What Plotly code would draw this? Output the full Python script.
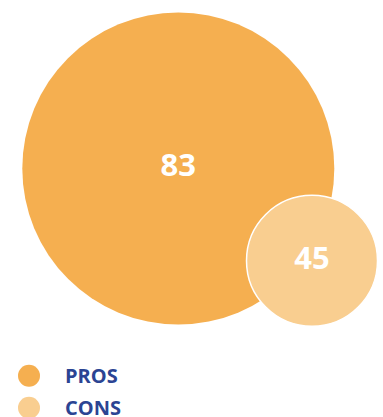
import plotly.graph_objects as go

# Survey tally: how many responses fell on each side
categories = ["PROS", "CONS"]
counts = [83, 45]

# Styling for each bubble
colors = ["#F5AF50", "#F9CE90"]
bubble_diameters = [312, 131]
bubble_centers = [(178.3, 168.5), (312.0, 260.8)]
legend_rows_y = [375.8, 407.8]
legend_text_color = "#2B4493"

W, H = 383, 417

fig = go.Figure()

# Bubbles, largest first so the smaller one overlaps it
for i, (cat, val) in enumerate(zip(categories, counts)):
    cx, cy = bubble_centers[i]
    fig.add_trace(go.Scatter(
        x=[cx], y=[cy],
        mode="markers+text",
        text=[str(val)],
        textposition="middle center",
        textfont=dict(family="Open Sans", size=31, color="white", weight=700),
        marker=dict(
            size=bubble_diameters[i],
            color=colors[i],
            line=dict(color="white", width=0 if i == 0 else 1.5),
        ),
        name=cat,
        hoverinfo="skip",
        showlegend=False,
    ))

# Custom legend: swatch circle plus bold label
for i, cat in enumerate(categories):
    fig.add_trace(go.Scatter(
        x=[29], y=[legend_rows_y[i]],
        mode="markers",
        marker=dict(size=22, color=colors[i]),
        hoverinfo="skip",
        showlegend=False,
    ))
    fig.add_annotation(
        x=63, y=legend_rows_y[i],
        xref="x", yref="y",
        text=cat,
        showarrow=False,
        xanchor="left", yanchor="middle",
        font=dict(family="Open Sans", size=20, color=legend_text_color, weight=700),
    )

fig.update_layout(
    width=W, height=H,
    margin=dict(l=0, r=0, t=0, b=0),
    paper_bgcolor="white",
    plot_bgcolor="white",
    xaxis=dict(range=[0, W], visible=False, fixedrange=True),
    yaxis=dict(range=[H, 0], visible=False, fixedrange=True),
)

fig.write_html("out.html")
